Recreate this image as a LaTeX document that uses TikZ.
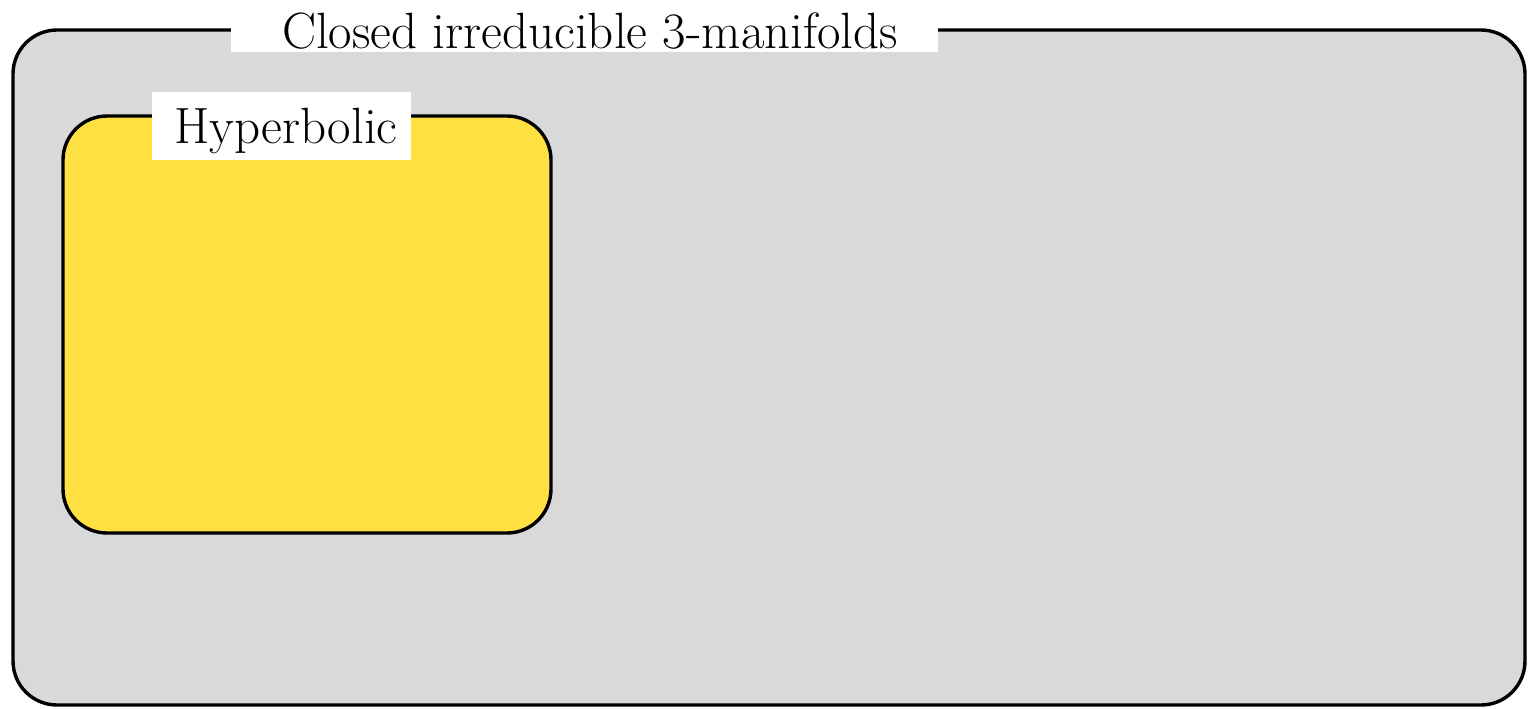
\documentclass[tikz,border=0pt]{standalone}
\usepackage{fontspec}
\definecolor{setgray}{RGB}{217,217,217}
\definecolor{hypyellow}{RGB}{255,224,66}
\begin{document}
\begin{tikzpicture}[x=0.5pt,y=-0.5pt,
  region/.style={draw=black,line width=1.7pt,rounded corners=22pt,inner sep=0pt},
  tagbox/.style={fill=white,inner sep=0pt},
  tagtext/.style={inner sep=0pt,font=\fontsize{25.5}{30}\selectfont}]
  \useasboundingbox (0,0) rectangle (1528,708);
  % outer set: closed irreducible 3-manifolds
  \node[region,fill=setgray,minimum width=756pt,minimum height=337.5pt] (outer) at (769,367.5) {};
  % inner set: hyperbolic
  \node[region,fill=hypyellow,minimum width=244pt,minimum height=208.5pt] (hyp) at (307,324.5) {};
  % white patches over the borders, with their labels
  \node[tagbox,minimum width=353.5pt,minimum height=22pt] (outerbox) at (584.5,30) {};
  \node[tagtext] (outerlabel) at (590,31) {Closed irreducible 3-manifolds};
  \node[tagbox,minimum width=129.5pt,minimum height=34pt] (hypbox) at (281.5,126) {};
  \node[tagtext] (hyplabel) at (286,131) {Hyperbolic};
\end{tikzpicture}
\end{document}
